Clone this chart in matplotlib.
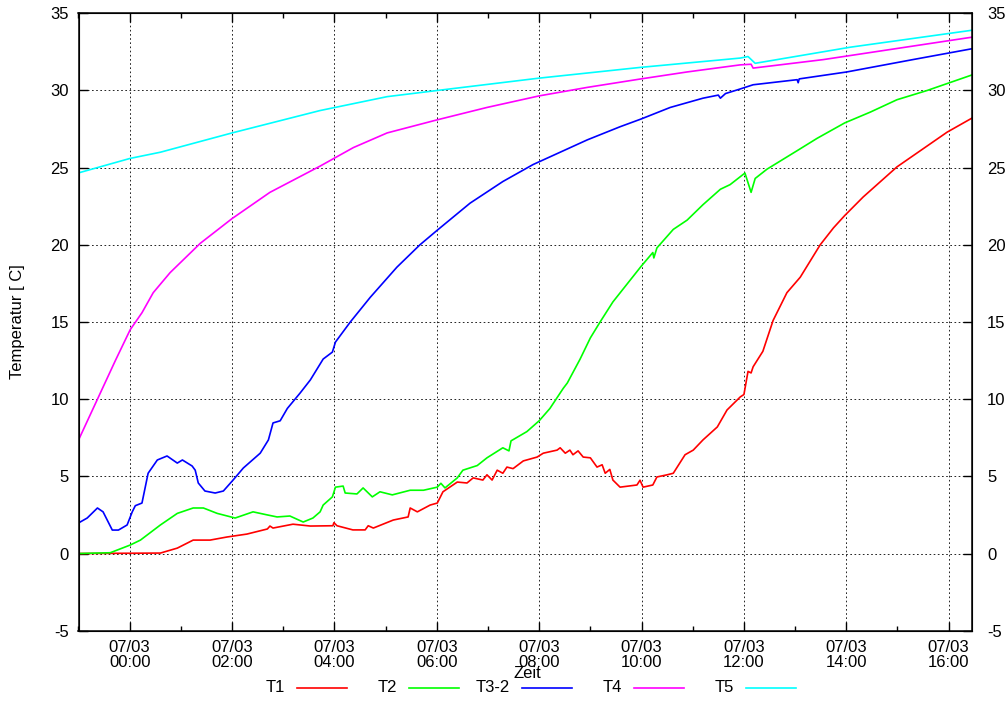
import matplotlib
matplotlib.use('Agg')
import matplotlib.pyplot as plt
from matplotlib.ticker import FixedLocator, FuncFormatter, MultipleLocator
from matplotlib.lines import Line2D

# time in hours relative to 07/03 00:00, temperature in degC
t1_time = [-1.0, 0.60, 0.93, 1.24, 1.57, 1.90, 2.29, 2.69, 2.74, 2.80, 3.19, 3.53,
           3.97, 3.99, 4.05, 4.36, 4.60, 4.66, 4.76, 5.15, 5.44, 5.48, 5.62, 5.87,
           6.01, 6.12, 6.40, 6.59, 6.71, 6.90, 6.98, 7.08, 7.18, 7.29, 7.37, 7.49,
           7.69, 7.96, 8.08, 8.35, 8.41, 8.51, 8.60, 8.66, 8.76, 8.86, 9.00, 9.13,
           9.23, 9.29, 9.38, 9.44, 9.58, 9.91, 9.97, 10.03, 10.22, 10.30, 10.50,
           10.62, 10.85, 11.01, 11.20, 11.48, 11.67, 11.93, 12.00, 12.08, 12.14,
           12.18, 12.37, 12.57, 12.84, 13.10, 13.49, 13.75, 13.97, 14.33, 14.99,
           15.97, 16.45]
t1_temp = [0.0, 0.03, 0.35, 0.87, 0.87, 1.07, 1.26, 1.59, 1.78, 1.65, 1.9, 1.78,
           1.8, 2.0, 1.8, 1.53, 1.53, 1.8, 1.65, 2.17, 2.37, 2.95, 2.7, 3.14,
           3.27, 4.0, 4.63, 4.57, 4.9, 4.76, 5.1, 4.76, 5.4, 5.2, 5.6, 5.5,
           6.0, 6.25, 6.5, 6.7, 6.85, 6.5, 6.7, 6.4, 6.65, 6.25, 6.2, 5.6,
           5.75, 5.2, 5.45, 4.76, 4.3, 4.44, 4.75, 4.3, 4.44, 4.96, 5.1,
           5.2, 6.4, 6.7, 7.36, 8.2, 9.3, 10.15, 10.3, 11.8, 11.7,
           12.1, 13.1, 15.1, 16.9, 17.9, 20.0, 21.1, 21.9, 23.1, 25.05,
           27.3, 28.2]

t2_time = [-1.0, -0.38, 0.01, 0.21, 0.60, 0.93, 1.24, 1.44, 1.71, 2.06, 2.41, 2.69,
           2.88, 3.13, 3.39, 3.58, 3.72, 3.78, 3.96, 4.02, 4.17, 4.21, 4.44, 4.56,
           4.74, 4.89, 5.13, 5.48, 5.74, 6.01, 6.08, 6.16, 6.40, 6.51, 6.79, 6.98,
           7.29, 7.41, 7.45, 7.76, 8.00, 8.21, 8.47, 8.55, 8.80, 9.00, 9.19, 9.44,
           9.99, 10.22, 10.24, 10.30, 10.62, 10.89, 11.20, 11.54, 11.73, 12.02,
           12.14, 12.22, 12.45, 13.04, 13.43, 13.97, 14.47, 14.99, 15.58, 16.45]
t2_temp = [0.0, 0.05, 0.55, 0.87, 1.85, 2.6, 2.95, 2.95, 2.6, 2.3, 2.7, 2.5,
           2.37, 2.43, 2.04, 2.3, 2.7, 3.14, 3.67, 4.3, 4.37, 3.92, 3.86, 4.25,
           3.67, 4.0, 3.8, 4.1, 4.1, 4.3, 4.55, 4.25, 4.9, 5.4, 5.7, 6.2,
           6.85, 6.65, 7.3, 7.9, 8.6, 9.4, 10.7, 11.05, 12.6, 13.97, 15.0, 16.3,
           18.6, 19.5, 19.15, 19.8, 21.0, 21.6, 22.6, 23.6, 23.9, 24.65,
           23.4, 24.3, 24.9, 26.1, 26.9, 27.9, 28.6, 29.4, 30.0, 31.0]

t3_time = [-1.0, -0.83, -0.63, -0.52, -0.34, -0.22, -0.05, 0.05, 0.11, 0.24, 0.36,
           0.54, 0.73, 0.93, 1.03, 1.22, 1.28, 1.34, 1.47, 1.67, 1.83, 2.02, 2.22,
           2.55, 2.71, 2.80, 2.94, 3.08, 3.33, 3.53, 3.78, 3.96, 4.02, 4.31, 4.70,
           5.22, 5.67, 6.01, 6.65, 7.29, 7.88, 8.41, 8.94, 9.58, 9.99, 10.56,
           11.20, 11.50, 11.54, 11.64, 11.93, 12.18, 13.04, 13.06, 13.08, 14.01,
           15.30, 16.45]
t3_temp = [1.98, 2.3, 2.95, 2.7, 1.52, 1.52, 1.85, 2.7, 3.1, 3.27, 5.2,
           6.06, 6.32, 5.86, 6.06, 5.67, 5.4, 4.57, 4.05, 3.92, 4.05, 4.76, 5.54,
           6.5, 7.36, 8.46, 8.6, 9.4, 10.4, 11.25, 12.6, 13.05, 13.7, 15.0, 16.6,
           18.55, 20.0, 20.95, 22.7, 24.1, 25.2, 26.0, 26.8, 27.65, 28.15, 28.9,
           29.5, 29.7, 29.5, 29.8, 30.1, 30.37, 30.7, 30.5, 30.75, 31.2,
           32.0, 32.7]

t4_time = [-1.0, -0.28, 0.01, 0.24, 0.46, 0.79, 1.38, 2.00, 2.74, 3.72, 4.37, 5.03,
           6.01, 6.98, 8.00, 8.94, 9.99, 10.89, 11.93, 12.14, 12.18, 13.55, 16.45]
t4_temp = [7.35, 12.5, 14.5, 15.6, 16.9, 18.2, 20.1, 21.7, 23.4, 25.1, 26.3, 27.25,
           28.1, 28.9, 29.65, 30.2, 30.75, 31.2, 31.66, 31.7, 31.45, 32.0, 33.45]

t5_time = [-1.0, 0.01, 0.60, 2.00, 3.72, 5.03, 6.01, 8.00, 9.99, 11.93, 12.08,
           12.22, 14.07, 16.45]
t5_temp = [24.66, 25.6, 26.0, 27.25, 28.7, 29.6, 30.0, 30.8, 31.5, 32.1, 32.2,
           31.76, 32.8, 33.9]

series = [('T1', t1_time, t1_temp, '#ff0000'),
          ('T2', t2_time, t2_temp, '#00ff00'),
          ('T3-2', t3_time, t3_temp, '#0000ff'),
          ('T4', t4_time, t4_temp, '#ff00ff'),
          ('T5', t5_time, t5_temp, '#00ffff')]

plt.rcParams['font.family'] = ['Liberation Sans', 'DejaVu Sans']
plt.rcParams['font.size'] = 12
plt.rcParams['axes.unicode_minus'] = False

W, H = 1008, 711
fig = plt.figure(figsize=(W / 100, H / 100), dpi=100)
left, right, top, bottom = 78.5, 971.7, 13.3, 630.7
ax = fig.add_axes([left / W, 1 - bottom / H, (right - left) / W, (bottom - top) / H])

for name, tt, vv, col in series:
    ax.plot(tt, vv, color=col, lw=1.2)

ax.set_xlim(-1.0, 16.45)
ax.set_ylim(-5, 35)

ax.xaxis.set_major_locator(FixedLocator(range(0, 17, 2)))
ax.xaxis.set_minor_locator(MultipleLocator(1))
ax.xaxis.set_major_formatter(FuncFormatter(lambda h, p: '07/03\n%02d:00' % int(round(h))))
ax.yaxis.set_major_locator(MultipleLocator(5))

ax.grid(True, which='major', color='black', lw=0.6, ls=(0, (2, 3)))
ax.tick_params(which='both', direction='in', top=True, right=False, width=1.0)
ax.tick_params(which='major', length=6.7)
ax.tick_params(which='minor', length=3.3)
ax.tick_params(axis='x', which='major', pad=7)
ax.tick_params(axis='y', which='major', pad=7)
for lab in ax.get_xticklabels():
    lab.set_linespacing(0.95)
for s in ax.spines.values():
    s.set_linewidth(1.1)

ax2 = ax.twinx()
ax2.set_ylim(ax.get_ylim())
ax2.yaxis.set_major_locator(MultipleLocator(5))
ax2.tick_params(direction='in', length=6.7, width=1.0, pad=11)

ax.text((18 - left) / (right - left), 0.5, 'Temperatur [ C]', rotation=90,
        ha='center', va='center', transform=ax.transAxes)
# gnuplot puts the axis title right on top of the tick labels
ax.text((527 - left) / (right - left), -(674 - bottom) / (bottom - top), 'Zeit',
        ha='center', va='center', transform=ax.transAxes)

# legend row under the plot, gnuplot style: label then line sample
for i, (name, tt, vv, col) in enumerate(series):
    x0 = 297 + i * 112.3
    yy = 1 - 688 / H
    fig.text((x0 - 12) / W, yy, name, ha='right', va='center')
    fig.add_artist(Line2D([x0 / W, (x0 + 50) / W], [yy, yy], color=col, lw=1.2,
                          transform=fig.transFigure))

fig.savefig('out.png', dpi=100)
